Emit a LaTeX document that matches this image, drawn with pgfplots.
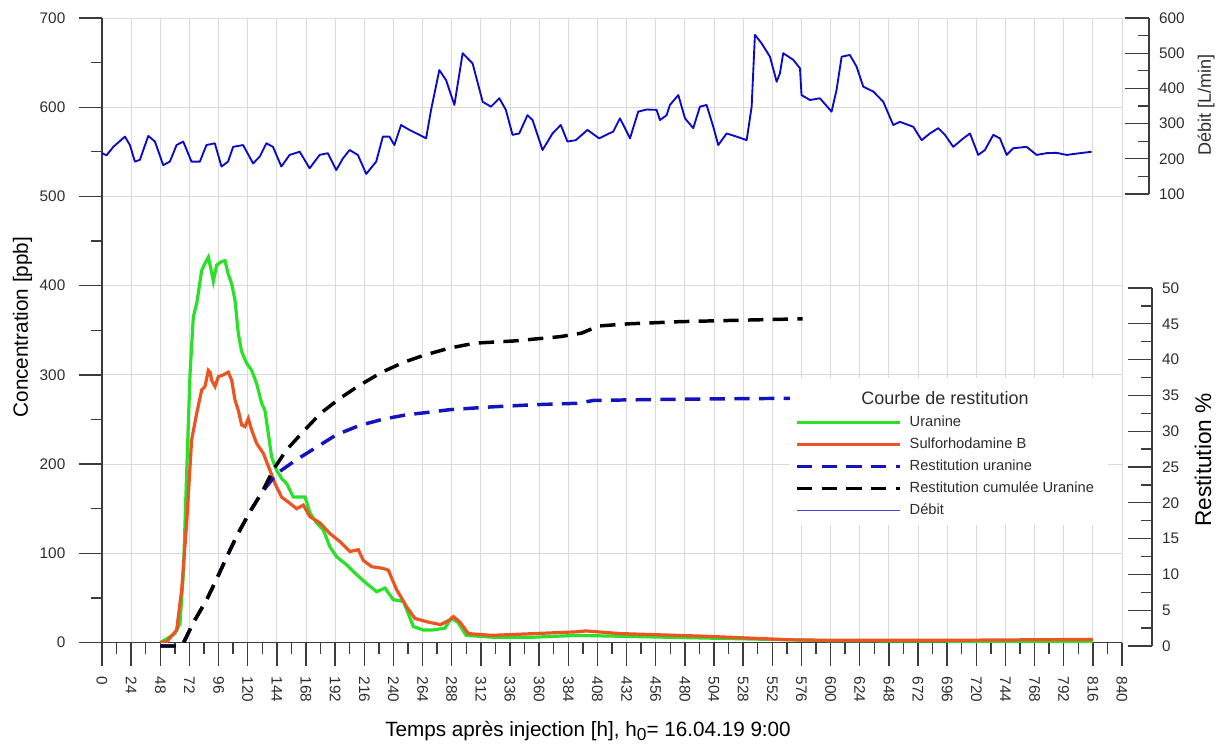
\documentclass[border=0pt]{standalone}
\usepackage{fontspec}
\setmainfont{Liberation Sans}
\usepackage{pgfplots}
\pgfplotsset{compat=1.18}
\definecolor{ugreen}{RGB}{40,225,40}
\definecolor{sred}{RGB}{235,85,35}
\definecolor{rblue}{RGB}{20,20,190}
\definecolor{dblue}{RGB}{10,10,200}
\definecolor{lblue}{RGB}{70,70,215}
\definecolor{gridgray}{RGB}{218,218,218}
\definecolor{axgray}{RGB}{60,60,60}
\definecolor{txtgray}{RGB}{45,45,45}
\pgfplotsset{
  ticklab/.style={tick label style={font=\fontsize{11.5}{13}\selectfont, text=txtgray},
    /pgf/number format/assume math mode=true},
}
\begin{document}
\begin{tikzpicture}
\useasboundingbox (0,0) rectangle (919.5pt,560.25pt);
% ---------------- main axis: concentrations ----------------
\begin{axis}[
  scale only axis, width=765pt, height=468.375pt,
  at={(76.5pt,78.375pt)}, anchor=south west,
  xmin=0, xmax=840, ymin=0, ymax=700,
  axis x line*=bottom, axis y line*=left,
  xtick={0,24,...,840}, minor x tick num=1,
  ytick={0,100,...,700}, minor y tick num=1,
  tick align=outside,
  major tick length=17.5pt, minor tick length=8.5pt,
  grid=major, major grid style={gridgray, line width=0.7pt},
  tick style={axgray, line width=1pt},
  axis line style={axgray, line width=1pt},
  ticklab,
  xticklabel style={rotate=-90, anchor=west},
  xticklabel shift=4.5pt, yticklabel shift=6.5pt,
  xlabel={Temps après injection [h], h\raisebox{-0.35ex}{\fontsize{13}{13}\selectfont 0}= 16.04.19 9:00},
  ylabel={Concentration [ppb]},
  xlabel style={at={(axis description cs:0.4765,-0.1417)}, anchor=center, font=\fontsize{15.5}{17}\selectfont},
  ylabel style={at={(axis description cs:-0.078,0.505)}, anchor=center, font=\fontsize{15.5}{17}\selectfont},
]
\addplot[ugreen, line width=2.4pt] coordinates {
(48,0) (52,3) (60,10) (64.2,21) (67,77) (69.7,189) (72.5,301) (75.2,365) (78,380)
(82.1,417) (84.8,425) (87.6,432) (90.3,415) (91.7,405) (94.4,423) (98.5,427) (101.3,428)
(104,413) (106.8,402) (109.5,384) (112.3,346) (115,326) (119.1,313) (123.3,305) (127.4,290)
(131.5,268) (134.2,260) (137,234) (139.7,208) (143.8,193) (147.9,184) (152.1,178) (157.6,163)
(163,163) (167.2,163) (171.3,145) (176.8,134) (182.3,126) (187.8,107) (193.3,96) (201.5,87)
(209.7,76) (218,66) (226.2,57) (233.1,61) (239.9,48) (248.2,46) (256.4,18) (264.6,14)
(271.8,14) (282.3,16) (287.6,27) (292.9,23) (299.9,8) (321,6) (356.2,6) (391.4,8)
(426.6,7) (497,5) (567.4,3) (600,2) (700,1.5) (816,1.5)};
\addplot[sred, line width=2.4pt] coordinates {
(48,0) (53.3,1) (61.5,14) (65.6,59) (69.7,133) (73.8,227) (78,257) (82.1,283) (84.8,287)
(87.6,305) (89,303) (90.3,294) (93.1,287) (95.8,298) (99.9,300) (104,303) (106.8,294)
(109.5,272) (112.3,260) (115,244) (117.8,242) (120.5,251) (123.3,238) (127.4,223) (132.9,212)
(138.3,193) (142.5,178) (147.9,163) (154.8,156) (160.3,150) (165.8,154) (171.3,141) (179.5,134)
(187.8,122) (196,113) (204.2,102) (211.1,104) (215.2,92) (222.1,85) (231.7,83) (235.8,81)
(242.7,59) (250.9,40) (257.7,27) (268.3,23) (278.8,20) (285.9,25) (289.4,29) (294.7,23)
(301.7,10) (321,8) (356.2,10) (391.4,12) (398.5,13) (426.6,10) (497,7) (567.4,3)
(600,2.5) (700,2.5) (816,3.5)};
\end{axis}
% ---------------- discharge data ----------------
\begin{axis}[
  scale only axis, width=765pt, height=132pt,
  at={(76.5pt,414.75pt)}, anchor=south west,
  xmin=0, xmax=840, ymin=100, ymax=600, hide axis]
\addplot[dblue, line width=1.4pt, line join=round] coordinates {
(0,216) (3.8,210) (9.3,234) (18.9,263) (23,239) (27.1,192) (31.2,197) (38.1,265) (43.6,249)
(50.4,182) (55.9,192) (61.4,239) (66.9,249) (73.7,192) (80.6,192) (86,239) (92.9,244)
(98.4,178) (103.8,192) (108,234) (116.2,239) (124.4,187) (129.9,206) (135.4,244) (140.8,234)
(147.7,178) (154.5,211) (162.8,220) (171,173) (179.2,211) (186,216) (192.9,168) (198.4,201)
(203.9,225) (210.7,211) (217.6,157) (225.8,192) (231.3,263) (236.7,263) (240.8,239) (246.3,296)
(253.2,282) (261.4,268) (266.9,258) (271,339) (277.8,452) (283.3,424) (290.2,353) (297,500)
(305.2,471) (313.5,362) (320.3,348) (327.2,372) (332.6,339) (338.1,268) (343.6,272) (350.4,324)
(354.6,310) (362.8,225) (371,272) (377.8,296) (383.3,249) (390.2,253) (399.8,282) (409.4,258)
(417.6,272) (421,277) (426.5,315) (430.7,287) (434.8,258) (441.6,334) (448.5,340) (456.7,339)
(459.5,310) (465,324) (467.7,353) (474.6,381) (480.1,315) (486.9,287) (492.4,348) (497.9,353)
(503.4,291) (507.5,239) (514.4,272) (522.6,263) (530.9,253) (535,348) (537.7,552) (543.2,528)
(550.1,490) (555.6,419) (558.3,443) (561,500) (569.3,481) (574.8,457) (576.1,381) (583,367)
(591.2,372) (600.8,334) (604.9,395) (609.1,490) (615.9,495) (621.4,462) (626.9,405) (635.2,391)
(643.4,362) (651.6,296) (657.1,305) (668.1,291) (675,253) (681.8,272) (688.7,287) (694.2,268)
(701,234) (709.3,258) (714.8,272) (721.6,211) (727.1,225) (734,268) (739.5,258) (745,211)
(750.4,230) (761.4,234) (769.7,211) (777.9,216) (786.1,217) (794.4,211) (805.4,216) (815,220)};
\end{axis}
% ---------------- discharge scale ----------------
\begin{axis}[
  scale only axis, width=18pt, height=132pt,
  at={(843.75pt,414.75pt)}, anchor=south west,
  xmin=0, xmax=1, ymin=100, ymax=600,
  axis y line*=right, axis x line=none,
  ytick={100,200,...,600}, minor y tick num=1,
  tick align=inside, major tick length=18pt, minor tick length=8.25pt,
  tick style={axgray, line width=1pt},
  axis line style={axgray, line width=1pt},
  ticklab, yticklabel shift=4pt,
  ylabel={Débit [L/min]},
  ylabel style={at={(axis description cs:3.375,0.506)}, anchor=center, font=\fontsize{13.5}{15}\selectfont, text=txtgray},
]
\end{axis}
% ---------------- restitution data ----------------
\begin{axis}[
  scale only axis, width=765pt, height=268.5pt,
  at={(76.5pt,75.75pt)}, anchor=south west,
  xmin=0, xmax=840, ymin=0, ymax=50, hide axis, clip=false]
\addplot[rblue, line width=2.6pt, dash pattern=on 11.5pt off 7pt] coordinates {
(48,0) (56,0) (62,0) (67,0.4) (75,3.2) (86,6.4) (94,9.2) (104,12.9) (112,15.7) (122,18.8)
(131.5,21.4) (144,24.1) (160,26) (177,27.8) (193,29.5) (212,30.8) (232,31.7) (251,32.3)
(267,32.6) (286,33) (321,33.4) (356,33.7) (391,33.9) (405,34.3) (444,34.4) (497,34.5) (571,34.6)};
\addplot[black, line width=2.6pt, dash pattern=on 11.5pt off 7pt] coordinates {
(48,0) (56,0) (62,0) (67,0.4) (75,3.2) (86,6.4) (94,9.2) (104,12.9) (112,15.7) (122,18.8)
(131.5,21.4) (141,24.6) (152,27.4) (166,30) (180,32.5) (196,34.6) (212,36.4) (230,38.2)
(248,39.6) (265,40.6) (286,41.6) (307,42.3) (339,42.6) (377,43.2) (395,43.7) (409,44.7)
(434,45) (476,45.3) (525,45.5) (577,45.7)};
\end{axis}
% ---------------- restitution scale ----------------
\begin{axis}[
  scale only axis, width=18pt, height=268.5pt,
  at={(846pt,75.75pt)}, anchor=south west,
  xmin=0, xmax=1, ymin=0, ymax=50,
  axis y line*=right, axis x line=none,
  ytick={0,5,...,50}, minor y tick num=1,
  tick align=inside, major tick length=18pt, minor tick length=8.25pt,
  tick style={axgray, line width=1pt},
  axis line style={axgray, line width=1pt},
  ticklab, yticklabel shift=4pt,
  ylabel={Restitution \%},
  ylabel style={at={(axis description cs:3.125,0.52)}, anchor=center, font=\fontsize{17}{19}\selectfont},
]
\end{axis}
% ---------------- legend ----------------
\fill[white] (592.5pt,166.5pt) rectangle (831pt,276.75pt);
\node[font=\fontsize{13.5}{15}\selectfont, text=txtgray] at (708.75pt,261.75pt) {Courbe de restitution};
\begin{axis}[
  scale only axis, width=765pt, height=468.375pt,
  at={(76.5pt,78.375pt)}, anchor=south west,
  xmin=0, xmax=840, ymin=0, ymax=700, hide axis,
  legend cell align=left,
  legend image code/.code={\draw[#1] (0pt,0pt) -- (77.25pt,0pt);},
  legend style={at={(axis description cs:0.6794,0.367)}, anchor=north west,
    draw=none, fill=none, inner sep=0pt, row sep=3.5pt, column sep=5pt,
    font=\fontsize{11}{13}\selectfont,
    nodes={inner sep=1pt, text height=8.5pt, text depth=2.5pt, text=txtgray}},
]
\addlegendimage{ugreen, line width=2.4pt}
\addlegendimage{sred, line width=2.4pt}
\addlegendimage{rblue, line width=2.6pt, dash pattern=on 11.5pt off 7pt}
\addlegendimage{black, line width=2.6pt, dash pattern=on 11.5pt off 7pt}
\addlegendimage{lblue, line width=0.9pt}
\legend{Uranine, Sulforhodamine B, Restitution uranine, Restitution cumulée Uranine, Débit}
\end{axis}
\end{tikzpicture}
\end{document}
